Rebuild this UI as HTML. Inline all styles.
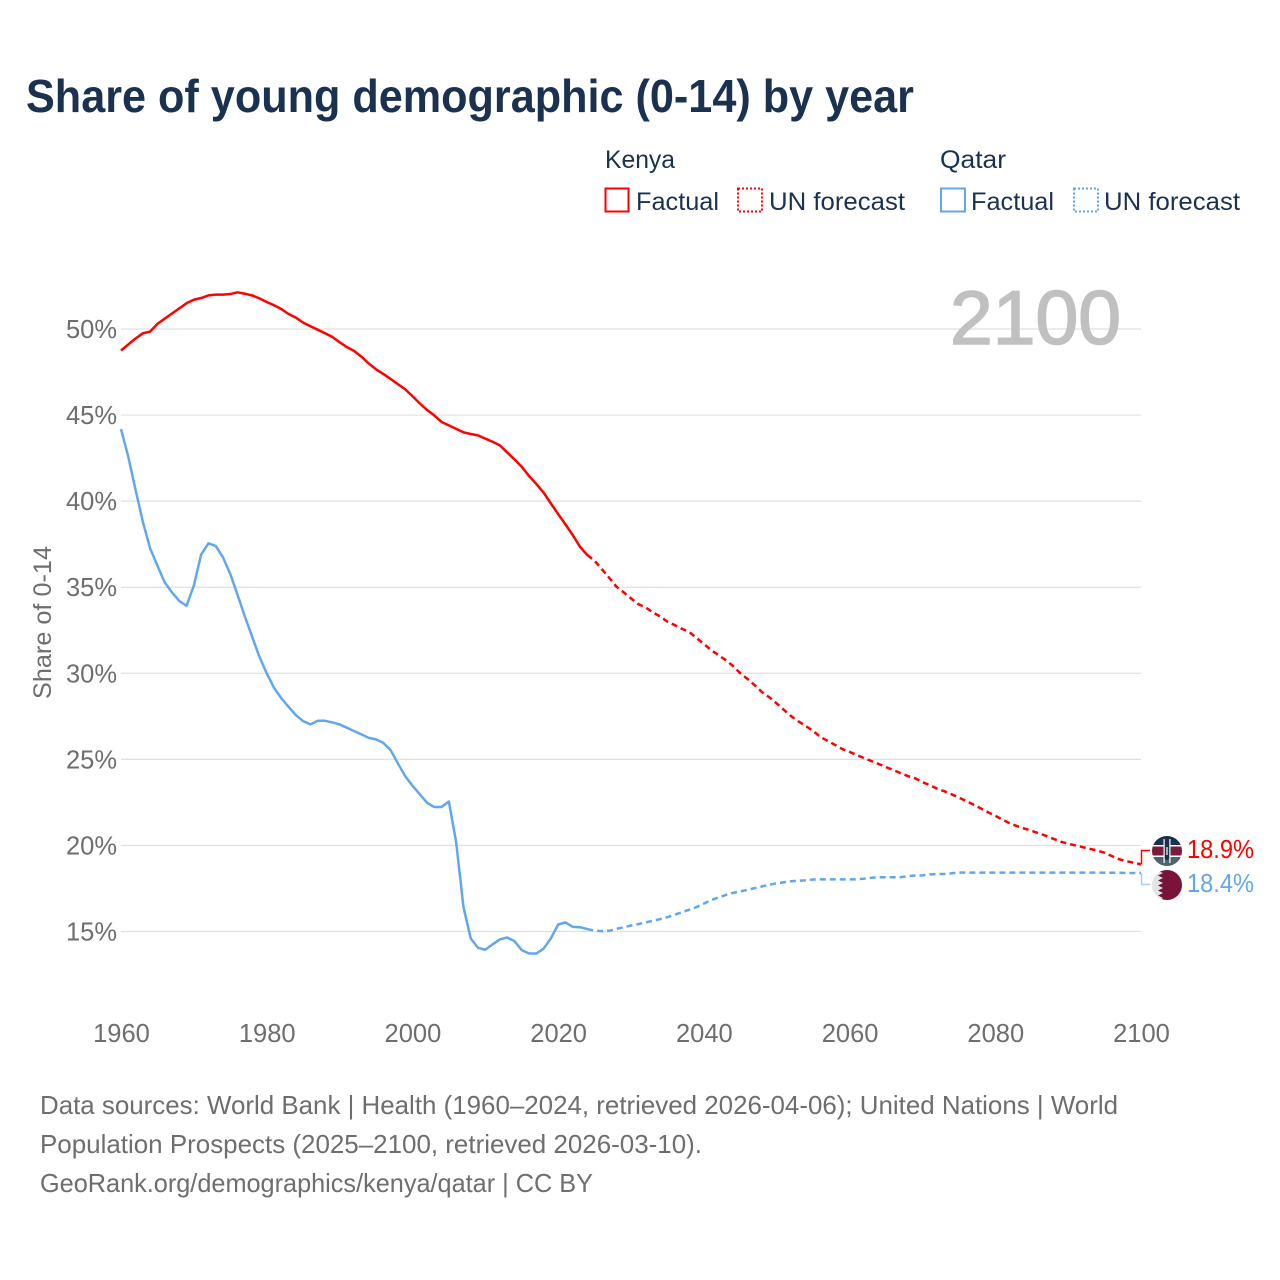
<!DOCTYPE html>
<html lang="en">
<head>
<meta charset="utf-8">
<title>Share of young demographic (0-14) by year</title>
<style>
html,body{margin:0;padding:0;background:#fff;}
svg{display:block;}
text{font-family:"Liberation Sans",Arial,sans-serif;}
.lg{font-size:25px;fill:#1a3150;}
.ft{font-size:26px;fill:#6e6e6e;}
.tick{font-size:25.500px;fill:#6e6e6e;}
</style>
</head>
<body>
<svg id="chart" xmlns="http://www.w3.org/2000/svg" width="1280" height="1280" viewBox="0 0 1280 1280">
<rect x="0" y="0" width="1280" height="1280" fill="#fff"/>
<text x="26" y="112" font-size="46" font-weight="700" fill="#1a3150" textLength="888" lengthAdjust="spacingAndGlyphs">Share of young demographic (0-14) by year</text>

<g>
<text class="lg" x="605" y="168" textLength="70" lengthAdjust="spacingAndGlyphs">Kenya</text>
<rect x="605.5" y="188.5" width="23" height="23" fill="none" stroke="#ff0000" stroke-width="2"/>
<text class="lg" x="636" y="210" textLength="83" lengthAdjust="spacingAndGlyphs">Factual</text>
<rect x="738" y="188.5" width="24" height="23" fill="none" stroke="#ff0000" stroke-width="2" stroke-dasharray="2 2"/>
<text class="lg" x="769" y="210" textLength="136" lengthAdjust="spacingAndGlyphs">UN forecast</text>
<text class="lg" x="940" y="168" textLength="66" lengthAdjust="spacingAndGlyphs">Qatar</text>
<rect x="941" y="188.5" width="24" height="23" fill="none" stroke="#62a7ee" stroke-width="2"/>
<text class="lg" x="971" y="210" textLength="83" lengthAdjust="spacingAndGlyphs">Factual</text>
<rect x="1074" y="188.5" width="24" height="23" fill="none" stroke="#62a7ee" stroke-width="2" stroke-dasharray="2 2"/>
<text class="lg" x="1104" y="210" textLength="136" lengthAdjust="spacingAndGlyphs">UN forecast</text>
</g>

<g id="grid"></g>
<g id="yticks"></g>
<g id="xticks"></g>

<text x="950" y="344" font-size="76" font-weight="400" fill="#c0c0c0" stroke="#c0c0c0" stroke-width="1.6" textLength="171" lengthAdjust="spacingAndGlyphs">2100</text>
<text font-size="25" fill="#6e6e6e" transform="translate(51 699) rotate(-90)" textLength="153" lengthAdjust="spacingAndGlyphs">Share of 0-14</text>

<g id="series"></g>
<g id="ends"></g>

<defs>
<clipPath id="flagClipK"><circle cx="1167" cy="851" r="15"/></clipPath>
<clipPath id="flagClipQ"><circle cx="1167" cy="885" r="15"/></clipPath>
</defs>
<g clip-path="url(#flagClipK)">
<rect x="1152" y="836" width="30" height="10" fill="#1a3150"/>
<rect x="1152" y="845" width="30" height="1.5" fill="#fff"/>
<rect x="1152" y="846.5" width="30" height="9" fill="#7d1a3b"/>
<rect x="1152" y="855.5" width="30" height="1.5" fill="#fff"/>
<rect x="1152" y="857" width="30" height="10" fill="#4c6470"/>
<ellipse cx="1167" cy="851" rx="4" ry="9" fill="#1a3150"/>
<rect x="1163.5" y="839" width="1.2" height="24" fill="#fff"/>
<rect x="1169.3" y="839" width="1.2" height="24" fill="#fff"/>
<rect x="1166.4" y="847" width="1.2" height="8" fill="#fff"/>
</g>
<g clip-path="url(#flagClipQ)">
<rect x="1152" y="870" width="30" height="30" fill="#e4e4e4"/>
<path d="M1160 870H1182V900H1160L1163 898L1158 895.500L1163 893L1158 890.500L1163 888L1158 885.500L1163 883L1158 880.500L1163 878L1158 875.500L1163 873L1158 871Z" fill="#7a1339"/>
</g>

<g>
<text class="ft" x="40" y="1114" textLength="1078" lengthAdjust="spacingAndGlyphs">Data sources: World Bank | Health (1960–2024, retrieved 2026-04-06); United Nations | World</text>
<text class="ft" x="40" y="1153" textLength="662" lengthAdjust="spacingAndGlyphs">Population Prospects (2025–2100, retrieved 2026-03-10).</text>
<text class="ft" x="40" y="1192" textLength="553" lengthAdjust="spacingAndGlyphs">GeoRank.org/demographics/kenya/qatar | CC BY</text>
</g>
</svg>
<script>
var factualStartYear = 1960;
var forecastStartYear = 2025;
var xTickYears = [1960, 1980, 2000, 2020, 2040, 2060, 2080, 2100];
var yTickValues = [50, 45, 40, 35, 30, 25, 20, 15];

var kenyaFactual = [
48.75,49.1,49.45,49.75,49.85,50.3,50.6,50.9,51.2,51.5,
51.7,51.8,51.95,52.0,52.0,52.03,52.13,52.05,51.95,51.78,
51.57,51.38,51.16,50.87,50.66,50.37,50.16,49.96,49.75,49.54,
49.23,48.95,48.72,48.39,48.0,47.66,47.39,47.1,46.8,46.5,
46.1,45.68,45.3,44.98,44.6,44.4,44.2,44.0,43.9,43.82,
43.63,43.45,43.24,42.83,42.43,42.0,41.46,41.0,40.5,39.87,
39.25,38.65,38.03,37.35,36.87
];
var kenyaForecast = [
36.54,36.05,35.55,35.03,34.7,34.35,34.02,33.83,33.54,33.3,
33.0,32.8,32.58,32.4,32.05,31.7,31.35,31.05,30.77,30.42,
30.0,29.67,29.3,28.9,28.6,28.25,27.87,27.5,27.2,26.93,
26.65,26.3,26.07,25.84,25.6,25.43,25.25,25.07,24.9,24.73,
24.55,24.38,24.2,24.03,23.9,23.68,23.5,23.3,23.15,22.97,
22.78,22.58,22.37,22.15,21.93,21.72,21.5,21.28,21.12,20.98,
20.85,20.7,20.55,20.38,20.22,20.1,20.0,19.9,19.8,19.7,
19.58,19.38,19.2,19.08,19.0,18.9
];
var qatarFactual = [
44.19,42.58,40.65,38.8,37.25,36.25,35.28,34.7,34.2,33.92,
35.1,36.9,37.55,37.4,36.73,35.77,34.55,33.3,32.12,30.96,
30.0,29.16,28.55,28.05,27.57,27.22,27.03,27.24,27.24,27.15,
27.03,26.84,26.64,26.45,26.25,26.16,25.96,25.54,24.77,24.03,
23.47,22.98,22.48,22.23,22.23,22.55,20.2,16.43,14.6,14.05,
13.94,14.25,14.54,14.65,14.44,13.92,13.72,13.72,14.0,14.6,
15.4,15.53,15.27,15.25,15.14
];
var qatarForecast = [
15.04,15.02,15.04,15.15,15.25,15.35,15.43,15.53,15.62,15.72,
15.83,15.98,16.12,16.27,16.42,16.62,16.82,16.98,17.12,17.24,
17.33,17.42,17.52,17.62,17.72,17.8,17.86,17.92,17.95,17.97,
18.02,18.03,18.03,18.03,18.03,18.03,18.03,18.07,18.12,18.15,
18.15,18.15,18.15,18.22,18.25,18.26,18.32,18.34,18.34,18.38,
18.43,18.42,18.42,18.42,18.42,18.42,18.42,18.42,18.42,18.42,
18.42,18.42,18.42,18.42,18.42,18.42,18.42,18.42,18.42,18.42,
18.41,18.41,18.41,18.4,18.4,18.4
];

var NS = 'http://www.w3.org/2000/svg';
function xScale(year) { return 121 + (year - 1960) * 1020 / 140; }
function yScale(value) { return 329 + (50 - value) * 602.5 / 35; }
function make(tag, attrs, parent) {
  var el = document.createElementNS(NS, tag);
  for (var k in attrs) { el.setAttribute(k, attrs[k]); }
  parent.appendChild(el);
  return el;
}
function pathFrom(values, startYear, lead) {
  var parts = [];
  if (lead !== null) { parts.push(xScale(startYear - 1).toFixed(2) + ' ' + yScale(lead).toFixed(2)); }
  values.forEach(function (v, i) {
    parts.push(xScale(startYear + i).toFixed(2) + ' ' + yScale(v).toFixed(2));
  });
  return 'M' + parts.join('L');
}

var gridG = document.getElementById('grid');
var yG = document.getElementById('yticks');
yTickValues.forEach(function (v) {
  var line = make('line', {x1: 121, x2: 1141, y1: yScale(v), y2: yScale(v), stroke: '#e0e0e0', 'stroke-width': 1.2}, gridG);
  
  
  var t = make('text', {x: 117, y: yScale(v) + 9, 'text-anchor': 'end', 'class': 'tick'}, yG);
  
  
  t.textContent = v + '%';
});

var xG = document.getElementById('xticks');
xTickYears.forEach(function (y) {
  var t = make('text', {x: xScale(y) + 0.5, y: 1042, 'text-anchor': 'middle', 'class': 'tick'}, xG);
  
  
  t.textContent = y;
});

var sG = document.getElementById('series');
var lineBase = {fill: 'none', 'stroke-width': 2.5, 'stroke-linejoin': 'round'};
function addLine(name, values, startYear, lead, color, dash) {
  var p = make('path', lineBase, sG);
  p.setAttribute('d', pathFrom(values, startYear, lead));
  p.setAttribute('stroke', color);
  if (dash) { p.setAttribute('stroke-dasharray', dash); }
  
  
}
var RED = '#ff0000', BLUE = '#62a7ee';
addLine('kenya-factual-line', kenyaFactual, factualStartYear, null, RED, null);
addLine('kenya-forecast-line', kenyaForecast, forecastStartYear, kenyaFactual[kenyaFactual.length - 1], RED, '6 4');
addLine('qatar-factual-line', qatarFactual, factualStartYear, null, BLUE, null);
addLine('qatar-forecast-line', qatarForecast, forecastStartYear, qatarFactual[qatarFactual.length - 1], BLUE, '6 4');

var eG = document.getElementById('ends');
var kLast = kenyaForecast[kenyaForecast.length - 1];
var qLast = qatarForecast[qatarForecast.length - 1];
var kConn = make('path', {fill: 'none', stroke: RED, 'stroke-width': 1.5}, eG);
kConn.setAttribute('d', 'M1141.500 ' + yScale(kLast) + 'V850.500H1150');


var qConn = make('path', {fill: 'none', stroke: '#a9cdf3', 'stroke-width': 1.5}, eG);
qConn.setAttribute('d', 'M1141.500 ' + yScale(qLast) + 'V884.500H1150');


var kLab = make('text', {x: 1187, y: 858, 'font-size': 26, fill: RED, textLength: 67, lengthAdjust: 'spacingAndGlyphs'}, eG);


kLab.textContent = kLast.toFixed(1) + '%';
var qLab = make('text', {x: 1187, y: 892, 'font-size': 26, fill: BLUE, textLength: 67, lengthAdjust: 'spacingAndGlyphs'}, eG);


qLab.textContent = qLast.toFixed(1) + '%';
</script>
</body>
</html>
